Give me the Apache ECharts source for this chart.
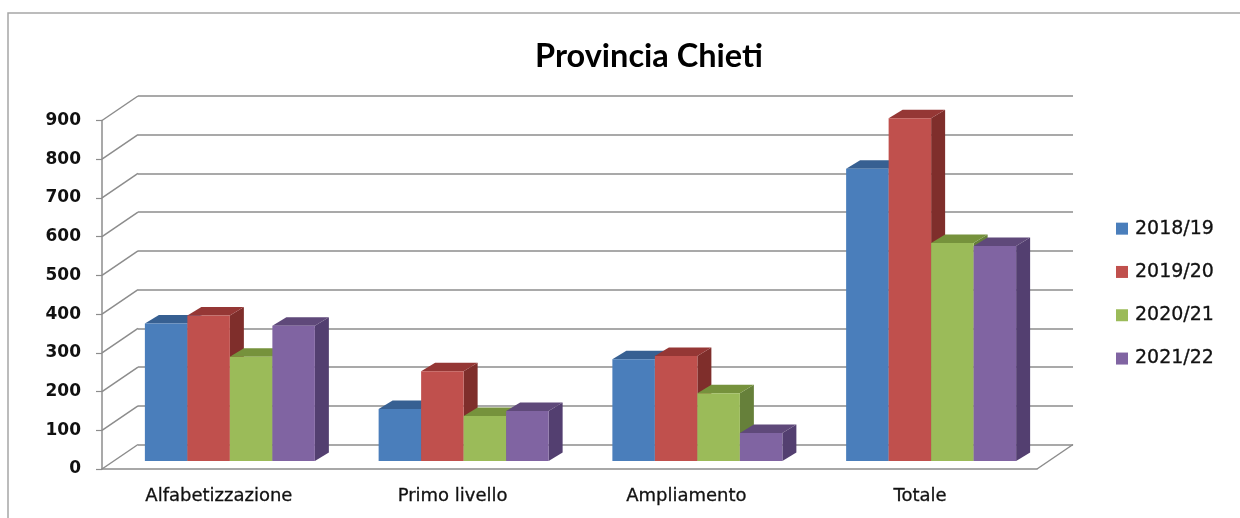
<!DOCTYPE html>
<html><head><meta charset="utf-8">
<style>html,body{margin:0;padding:0;background:#fff}#c{width:1240px;height:518px}</style>
<script src="https://cdn.jsdelivr.net/npm/echarts@6/dist/echarts.min.js"></script>
</head><body><div id="c"></div>
<script>
const categories = ['Alfabetizzazione','Primo livello','Ampliamento','Totale'];
const years = ['2018/19','2019/20','2020/21','2021/22'];
const v2018 = [355,134,263,755];
const v2019 = [376,232,271,885];
const v2020 = [269,116,175,563];
const v2021 = [349,129,72,555];
const allValues = [v2018,v2019,v2020,v2021];
const yTicks = [0,100,200,300,400,500,600,700,800,900];
const front = ['#4A7EBB','#C0504D','#9BBB59','#8064A2'];
const topC = ['#376092','#953735','#76923C','#5F497A'];
const sideC = ['#2F5480','#7F2E2B','#66803A','#533F70'];
const GRID='#8c8c8c';
const FONT='"DejaVu Sans"';
const wall={dx:36,dy:-24.5};
const depth={dx:14,dy:-8.5,ox:11,oy:-8};

function barRender(idx){
  return function(params,api){
    const p=api.coord([api.value(0),api.value(1)]);
    const b=api.coord([api.value(0),0]);
    const band=api.size([1,0])[0];
    const w=band/5.5;
    const x0=p[0]+(idx-2)*w+depth.ox, x1=x0+w;
    const yt=p[1]+depth.oy, yb=b[1]+depth.oy;
    const dx=depth.dx, dy=depth.dy;
    return {type:'group',children:[
      {type:'polygon',shape:{points:[[x1,yt],[x1+dx,yt+dy],[x1+dx,yb+dy],[x1,yb]]},style:{fill:sideC[idx]}},
      {type:'polygon',shape:{points:[[x0,yt],[x0+dx,yt+dy],[x1+dx,yt+dy],[x1,yt]]},style:{fill:topC[idx]}},
      {type:'rect',shape:{x:x0,y:yt,width:w,height:yb-yt},style:{fill:front[idx]}}
    ]};
  };
}
const barSeries=years.map((y,i)=>({
  name:y,type:'custom',xAxisIndex:0,yAxisIndex:0,z:5,
  data:categories.map((c,k)=>[k,allValues[i][k]]),
  encode:{x:0,y:1},
  renderItem:barRender(i),
  itemStyle:{color:front[i]}
}));
const wallSeries={
  type:'custom',xAxisIndex:0,yAxisIndex:0,z:1,silent:true,
  data:yTicks.map(v=>[v]),
  encode:{y:0},
  renderItem:function(params,api){
    const p=api.coord([0,api.value(0)]);
    const left=params.coordSys.x;
    const st={stroke:GRID,lineWidth:1.5,fill:null};
    const kids=[{type:'line',shape:{x1:left,y1:p[1],x2:left+wall.dx,y2:p[1]+wall.dy},style:st}];
    if(api.value(0)===0){
      const right=left+params.coordSys.width;
      kids.push({type:'line',shape:{x1:right,y1:p[1],x2:right+wall.dx,y2:p[1]+wall.dy},style:st});
    }
    return {type:'group',children:kids};
  }
};
const chart=echarts.init(document.getElementById('c'),null,{renderer:'canvas'});
chart.setOption({
  animation:false,
  backgroundColor:'#fff',
  title:{text:'Provincia Chieti',left:644,top:35,textAlign:'center',
    textStyle:{fontFamily:'Lato',fontWeight:'bold',fontSize:32.5,color:'#000'}},
  legend:{data:years,orient:'vertical',left:1111,top:214,icon:'rect',itemWidth:12,itemHeight:12,itemGap:24,
    textStyle:{fontFamily:FONT,fontSize:19,color:'#111',padding:[0,0,0,2],textBorderColor:'#111',textBorderWidth:0.3}},
  graphic:[{type:'polyline',shape:{points:[[8,518],[8,13],[1240,13]]},style:{stroke:'#a6a6a6',lineWidth:1.5,fill:null},z:0}],
  grid:[
    {left:102,top:120.5,width:935,height:348.5},
    {left:138,top:96,width:935,height:348.5}
  ],
  xAxis:[
    {type:'category',gridIndex:0,data:categories,
     axisLine:{lineStyle:{color:GRID,width:1.5}},
     axisTick:{length:8,lineStyle:{color:GRID,width:1.2}},
     axisLabel:{fontFamily:FONT,fontSize:18,color:'#111',margin:18,textBorderColor:'#111',textBorderWidth:0.3}},
    {type:'category',gridIndex:1,data:categories,show:false}
  ],
  yAxis:[
    {type:'value',gridIndex:0,min:0,max:900,interval:100,
     axisLine:{show:true,lineStyle:{color:GRID,width:1.5}},
     axisTick:{show:true,length:6,lineStyle:{color:GRID,width:1.2}},
     splitLine:{show:false},
     axisLabel:{fontFamily:FONT,fontSize:17,fontWeight:'bold',color:'#111',margin:21}},
    {type:'value',gridIndex:1,min:0,max:900,interval:100,
     axisLine:{show:false},axisTick:{show:false},axisLabel:{show:false},
     splitLine:{show:true,lineStyle:{color:GRID,width:1.5}}}
  ],
  series:[wallSeries].concat(barSeries)
});
</script></body></html>
